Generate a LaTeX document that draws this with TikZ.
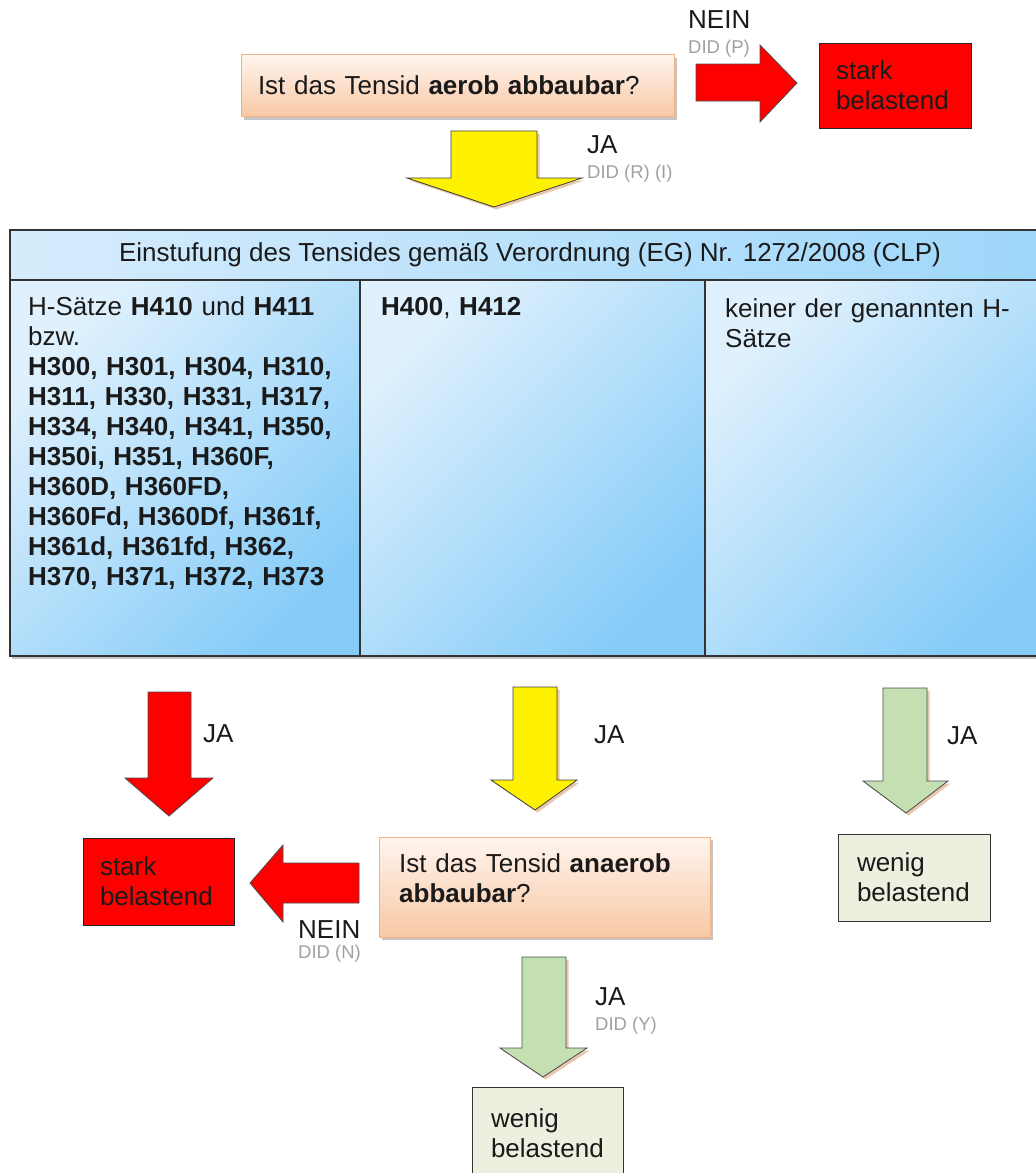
\documentclass[tikz,border=0pt]{standalone}
\usepackage{fontspec}
\setmainfont{Liberation Sans}
\usetikzlibrary{shadows}

\definecolor{ink}{HTML}{1A1A1A}
\definecolor{qtop}{HTML}{FFF5EF}
\definecolor{qbot}{HTML}{F8C8A4}
\definecolor{qline}{HTML}{F4B183}
\definecolor{cellA}{HTML}{E0F1FD}
\definecolor{cellB}{HTML}{86CCF8}
\definecolor{hdA}{HTML}{D6ECFC}
\definecolor{hdB}{HTML}{9ED7FA}
\definecolor{arrgreen}{HTML}{C4DFB2}
\definecolor{boxgreen}{HTML}{EBF1DE}
\definecolor{didgray}{HTML}{A0A0A0}
\definecolor{shadeorange}{HTML}{D9A27A}

\tikzset{
  qbox/.style={draw=qline, line width=1pt, top color=qtop, bottom color=qbot, inner xsep=17pt, inner ysep=0pt, align=left,
    drop shadow={shadow xshift=3pt, shadow yshift=-3pt, fill=black!45, opacity=.5}},
  redbox/.style={draw=black!85, line width=1pt, fill=red, inner xsep=17pt, inner ysep=0pt, align=left},
  greenbox/.style={draw=black!80, line width=1pt, fill=boxgreen, inner xsep=19pt, inner ysep=0pt, align=left},
  cell/.style={draw=black!80, line width=1.3pt, inner sep=0pt, top color=cellA, bottom color=cellB, shading angle=45,
    drop shadow={shadow xshift=2pt, shadow yshift=-3pt, fill=black!45, opacity=.5}},
  celltext/.style={anchor=base west, inner sep=0pt, text width=325pt, align=left},
  lbl/.style={anchor=base west, inner sep=0pt},
  did/.style={lbl, font=\fontsize{18.5}{20}\selectfont, text=didgray},
  redarr/.style={fill=red, draw=black!70, line width=0.8pt},
  yelarr/.style={fill=yellow, draw=black!75, line width=0.8pt,
    drop shadow={shadow xshift=2.5pt, shadow yshift=-2.5pt, fill=shadeorange, opacity=.6}},
  grnarr/.style={fill=arrgreen, draw=black!70, line width=0.8pt,
    drop shadow={shadow xshift=2.5pt, shadow yshift=-2.5pt, fill=shadeorange, opacity=.6}}
}

\begin{document}
\begin{tikzpicture}[x=1pt, y=-1pt, every node/.append style={font=\fontsize{26}{30}\selectfont, text=ink}]
    \useasboundingbox (0,0) rectangle (1036,1173);

    % first question
    \node[qbox, minimum width=433pt, minimum height=62pt, text width=399pt] (aerob) at (457.5,85.5) {Ist das Tensid \textbf{aerob abbaubar}?};
    \node[redbox, minimum width=152pt, minimum height=85pt, text width=118pt] (stark1) at (895,85.5) {stark\\belastend};
    \draw[redarr] (696,64) -- (760,64) -- (760,45) -- (797,83) -- (760,122) -- (760,101) -- (696,101) -- cycle;
    \node[lbl] (nein1) at (688,28) {NEIN};
    \node[did] (didp) at (688,53) {DID (P)};
    \draw[yelarr] (451,131) -- (537,131) -- (537,178) -- (582,178) -- (494,207) -- (407,178) -- (451,178) -- cycle;
    \node[lbl] (ja1) at (587,153) {JA};
    \node[did] (didri) at (587,178) {DID (R) (I)};

    % table
    \node[cell, top color=hdA, bottom color=hdB, shading angle=90, minimum width=1040pt, minimum height=50pt] (kopf) at (530,255) {Einstufung des Tensides gemäß Verordnung (EG) Nr. 1272/2008 (CLP)};
    \node[cell, minimum width=350pt, minimum height=376pt] (links) at (185,468) {};
    \node[cell, minimum width=345pt, minimum height=376pt] (mitte) at (532.5,468) {};
    \node[cell, minimum width=345pt, minimum height=376pt] (rechts) at (877.5,468) {};
    \node[celltext] (hsaetze) at (28,315) {H-Sätze \textbf{H410} und \textbf{H411}\\bzw.\\
        \textbf{H300, H301, H304, H310,}\\\textbf{H311, H330, H331, H317,}\\
        \textbf{H334, H340, H341, H350,}\\\textbf{H350i, H351, H360F,}\\
        \textbf{H360D, H360FD,}\\\textbf{H360Fd, H360Df, H361f,}\\
        \textbf{H361d, H361fd, H362,}\\\textbf{H370, H371, H372, H373}};
    \node[celltext] (hvier) at (381,315) {\textbf{H400}, \textbf{H412}};
    \node[celltext, text width=300pt] (keiner) at (725,317) {keiner der genannten H-\\Sätze};

    % arrows below the table
    \draw[redarr] (148,692) -- (191,692) -- (191,778) -- (213,778) -- (169,816) -- (125,778) -- (148,778) -- cycle;
    \node[lbl] (ja2) at (203,742) {JA};
    \draw[yelarr] (513,687) -- (557,687) -- (557,780) -- (577,780) -- (535,810) -- (491,780) -- (513,780) -- cycle;
    \node[lbl] (ja3) at (594,743) {JA};
    \draw[grnarr] (883,688) -- (927,688) -- (927,781) -- (948,781) -- (906,813) -- (863,781) -- (883,781) -- cycle;
    \node[lbl] (ja4) at (947,744) {JA};

    % second question
    \node[redbox, minimum width=151pt, minimum height=87pt, text width=117pt] (stark2) at (158.5,881.5) {stark\\belastend};
    \node[qbox, minimum width=331pt, minimum height=100pt] (anaerob) at (544.5,887) {};
    \node[lbl, text width=300pt, align=left] (anaerobtext) at (399,872) {Ist das Tensid \textbf{anaerob}\\\textbf{abbaubar}?};
    \draw[redarr] (359,863) -- (283,863) -- (283,845) -- (250,883) -- (283,922) -- (283,903) -- (359,903) -- cycle;
    \node[lbl] (nein2) at (298,938) {NEIN};
    \node[did] (didn) at (298,958) {DID (N)};
    \node[greenbox, minimum width=152pt, minimum height=87pt, text width=114pt] (wenig1) at (914,877.5) {wenig\\belastend};
    \draw[grnarr] (522,957) -- (566,957) -- (566,1048) -- (587,1048) -- (543,1077) -- (500,1048) -- (522,1048) -- cycle;
    \node[lbl] (ja5) at (595,1005) {JA};
    \node[did] (didy) at (595,1030) {DID (Y)};
    \node[greenbox, minimum width=151pt, minimum height=92pt, text width=113pt] (wenig2) at (547.5,1133) {wenig\\belastend};
\end{tikzpicture}
\end{document}
